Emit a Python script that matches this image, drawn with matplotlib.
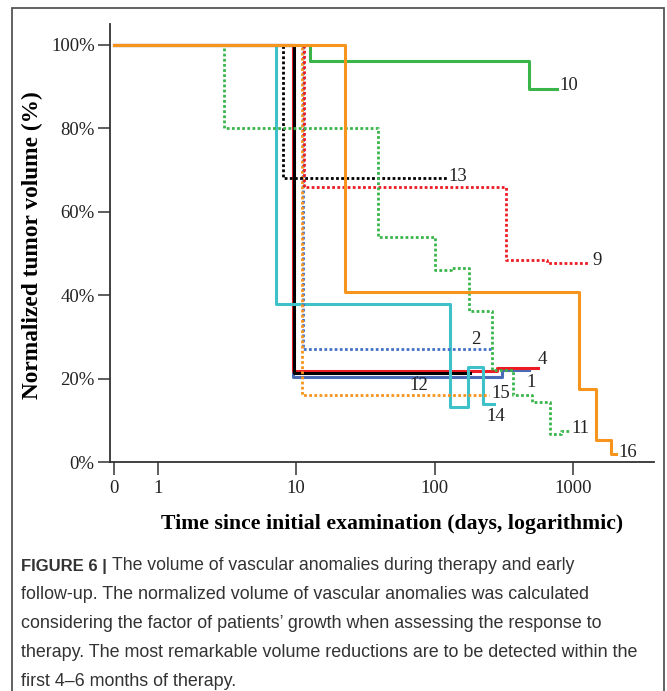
import numpy as np
import matplotlib
matplotlib.use("Agg")
import matplotlib.pyplot as plt
from matplotlib.patches import Rectangle

# day 0 can't sit on a log axis, so it is drawn a bit left of day 1
ZERO_POS = 0.48

# patient curves: days since initial examination and normalized volume (%)
days_16 = [0, 22.4, 1110, 1460, 1900, 2040]
vol_16 = [100, 40.7, 17.6, 5.3, 2.0, 2.0]

days_10 = [0, 12.6, 484, 764]
vol_10 = [100, 96.2, 89.5, 89.5]

days_11 = [0, 3.0, 39, 101, 131, 176, 261, 367, 509, 683, 814, 953]
vol_11 = [100, 80, 53.9, 46.1, 46.6, 36.3, 22.1, 16.2, 14.5, 6.8, 7.6, 7.6]

days_13 = [0, 8.0, 124]
vol_13 = [100, 68, 68]

days_9 = [0, 11.4, 328, 646, 1290]
vol_9 = [100, 66, 48.5, 47.8, 47.8]

days_14 = [0, 7.1, 129, 175, 225, 270]
vol_14 = [100, 37.9, 13.3, 22.9, 13.9, 13.9]

days_12 = [0, 9.6, 180]
vol_12 = [100, 21.5, 21.5]

days_4 = [0, 9.5, 281, 556]
vol_4 = [100, 21.9, 22.7, 22.7]

days_1 = [0, 9.5, 306, 481]
vol_1 = [100, 20.5, 22.1, 22.1]

days_2 = [0, 11.2, 256]
vol_2 = [100, 27.1, 27.1]

days_15 = [0, 11.0, 249]
vol_15 = [100, 16.0, 16.0]

# label text and where it sits (day, %)
labels = ["10", "13", "9", "2", "4", "1", "12", "15", "14", "11", "16"]
label_days = [797, 126, 1390, 183, 559, 463, 66, 256, 238, 980, 2130]
label_vals = [90.2, 68.4, 48.3, 29.5, 24.5, 19.1, 18.3, 16.5, 10.9, 8.1, 2.3]

xtick_days = [0, 1, 10, 100, 1000]
ytick_vals = [0, 20, 40, 60, 80, 100]

ORANGE = "#F7941D"
GREEN = "#39B54A"
CYAN = "#3EC1C8"
RED = "#ED1C24"
BLUE = "#4A6CB8"
BLUE_DOT = "#4472C4"

dotted = (0, (1, 0.85))
SERIF = "Liberation Serif"


def xpos(days):
    d = np.asarray(days, dtype=float)
    return np.where(d == 0, ZERO_POS, d)


fig = plt.figure(figsize=(6.67, 6.91), dpi=100)
ax = fig.add_axes([0.1649, 0.331, 0.8156, 0.6344])

curves = [
    (days_1, vol_1, BLUE, "-"),
    (days_4, vol_4, RED, "-"),
    (days_12, vol_12, "black", "-"),
    (days_14, vol_14, CYAN, "-"),
    (days_2, vol_2, BLUE_DOT, dotted),
    (days_15, vol_15, ORANGE, dotted),
    (days_9, vol_9, RED, dotted),
    (days_13, vol_13, "black", dotted),
    (days_11, vol_11, GREEN, dotted),
    (days_10, vol_10, GREEN, "-"),
    (days_16, vol_16, ORANGE, "-"),
]
for d, v, c, ls in curves:
    ax.plot(xpos(d), v, drawstyle="steps-post", color=c, linestyle=ls,
            lw=2.2 if ls == "-" else 2.0)

for t, d, v in zip(labels, label_days, label_vals):
    ax.text(d, v, t, fontsize=13.5, family=SERIF, color="#222222",
            ha="left", va="center")
# short leader from label 12 up to its line
ax.annotate("", xy=(75, 20.6), xytext=(75, 19.6),
            arrowprops=dict(arrowstyle="-", color="#222222", lw=0.8))

ax.set_xscale("log")
ax.set_xlim(0.45, 3860)
ax.set_ylim(0, 105)
ax.set_xticks(xpos(xtick_days))
ax.set_xticklabels([str(d) for d in xtick_days])
ax.xaxis.set_minor_locator(matplotlib.ticker.NullLocator())
ax.set_yticks(ytick_vals)
ax.set_yticklabels([f"{v}%" for v in ytick_vals])

for s in ["top", "right"]:
    ax.spines[s].set_visible(False)
for s in ["left", "bottom"]:
    ax.spines[s].set_color("#333333")
    ax.spines[s].set_linewidth(1.3)
ax.tick_params(length=9, width=1.1, color="#333333", labelsize=13.5,
               labelcolor="#222222")
ax.tick_params(axis="y", pad=2)
for lab in ax.get_xticklabels() + ax.get_yticklabels():
    lab.set_family(SERIF)

ax.set_xlabel("Time since initial examination (days, logarithmic)",
              family=SERIF, fontsize=15.7, fontweight="bold")
ax.set_ylabel("Normalized tumor volume (%)", family=SERIF, fontsize=16.8,
              fontweight="bold")
ax.xaxis.set_label_coords(0.518, -0.117)
ax.yaxis.set_label_coords(-0.123, 0.495)

# frame round the figure panel
fig.patches.append(Rectangle((0.018, -0.1), 0.9775, 1.0884, fill=False,
                             edgecolor="#555555", lw=1.3,
                             transform=fig.transFigure))

caption = [
    "The volume of vascular anomalies during therapy and early",
    "follow-up. The normalized volume of vascular anomalies was calculated",
    "considering the factor of patients\u2019 growth when assessing the response to",
    "therapy. The most remarkable volume reductions are to be detected within the",
    "first 4\u20136 months of therapy.",
]
x0 = 21 / 667
y_line = 1 - 566 / 691
step = 28.8 / 691
head = fig.text(x0, y_line, "FIGURE 6 | ", fontsize=12, fontweight="bold",
                family="Liberation Sans", color="#333333", va="center")
fig.canvas.draw()
bb = head.get_window_extent()
fig.text(bb.x1 / fig.bbox.width, y_line, caption[0], fontsize=12.7,
         family="Liberation Sans", color="#333333", va="center")
for i, line in enumerate(caption[1:], start=1):
    fig.text(x0, y_line - i * step, line, fontsize=12.9,
             family="Liberation Sans", color="#333333", va="center")

fig.savefig("out.png", dpi=100)
